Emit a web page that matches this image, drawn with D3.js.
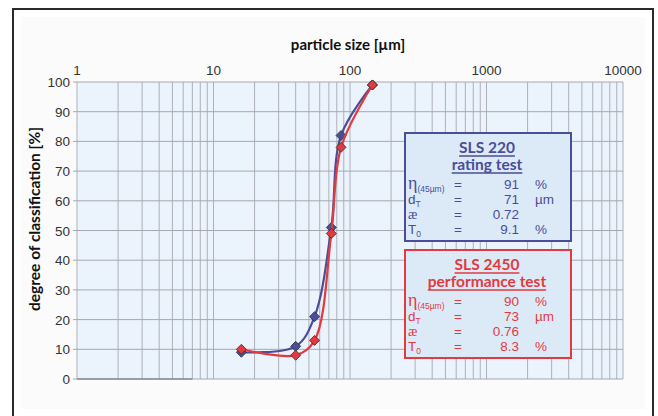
<!DOCTYPE html>
<html>
<head>
<meta charset="utf-8">
<script src="https://cdn.jsdelivr.net/npm/d3@7"></script>
<style>
  html, body { margin: 0; padding: 0; background: #fff; }
  svg { display: block; }
</style>
</head>
<body>
<svg id="chart" width="658" height="416"></svg>
<script>
// particle sizes in µm (log axis) and degree of classification in %
const sizes = [16, 40, 55, 73, 86, 146];
const rating = [9, 11, 21, 51, 82, 99];       // SLS 220
const performance = [10, 8, 13, 49, 78, 99];  // SLS 2450

const xTicks = [1, 10, 100, 1000, 10000];
const yTicks = [0, 10, 20, 30, 40, 50, 60, 70, 80, 90, 100];

// legend box contents
const ratingRows = [
  { sym: "η", sub: "(45µm)", value: "91", unit: "%" },
  { sym: "d", sub: "T", value: "71", unit: "µm" },
  { sym: "æ", sub: "", value: "0.72", unit: "" },
  { sym: "T", sub: "0", value: "9.1", unit: "%" },
];
const performanceRows = [
  { sym: "η", sub: "(45µm)", value: "90", unit: "%" },
  { sym: "d", sub: "T", value: "73", unit: "µm" },
  { sym: "æ", sub: "", value: "0.76", unit: "" },
  { sym: "T", sub: "0", value: "8.3", unit: "%" },
];

const blue = "#4a4d98";
const red = "#e23a3f";

const svg = d3.select("#chart");

// outer frame
svg.append("rect")
  .attr("x", 21).attr("y", 17).attr("width", 624).attr("height", 392)
  .attr("fill", "#fbfbfb");
svg.append("path")
  .attr("d", "M13,420 V9 H653 V420")
  .attr("fill", "none")
  .attr("stroke", "#2a2a2a")
  .attr("stroke-width", 2);

const x = d3.scaleLog().domain([1, 10000]).range([77, 623]);
const y = d3.scaleLinear().domain([0, 100]).range([379, 82]);

// plot background
svg.append("rect")
  .attr("x", x(1)).attr("y", y(100))
  .attr("width", x(10000) - x(1)).attr("height", y(0) - y(100))
  .attr("fill", "#ebf3fc");

// vertical grid, one line per log step
const minor = [];
for (let d = 1; d < 10000; d *= 10) {
  for (let k = 1; k < 10; k++) minor.push(d * k);
}
minor.push(10000);

svg.append("g")
  .selectAll("line")
  .data(minor)
  .join("line")
  .attr("x1", d => x(d)).attr("x2", d => x(d))
  .attr("y1", y(100)).attr("y2", y(0))
  .attr("stroke", "#aeb0b8")
  .attr("stroke-width", 1);

svg.append("g")
  .selectAll("line")
  .data(yTicks)
  .join("line")
  .attr("x1", x(1) - 4).attr("x2", x(10000))
  .attr("y1", d => y(d)).attr("y2", d => y(d))
  .attr("stroke", "#a6a8b0")
  .attr("stroke-width", 1);

// darker piece of the base line on the left
svg.append("line")
  .attr("x1", x(1)).attr("x2", x(7))
  .attr("y1", y(0)).attr("y2", y(0))
  .attr("stroke", "#8a8c92")
  .attr("stroke-width", 1.5);

// tick labels
svg.append("g")
  .selectAll("text")
  .data(yTicks)
  .join("text")
  .attr("x", 70)
  .attr("y", d => y(d) + 5)
  .attr("text-anchor", "end")
  .attr("font-family", "Liberation Sans, Arial, sans-serif")
  .attr("font-size", 13.5)
  .attr("fill", "#333")
  .text(d => d);

svg.append("g")
  .selectAll("text")
  .data(xTicks)
  .join("text")
  .attr("x", d => x(d))
  .attr("y", 75)
  .attr("text-anchor", "middle")
  .attr("font-family", "Liberation Sans, Arial, sans-serif")
  .attr("font-size", 13.5)
  .attr("fill", "#333")
  .text(d => d);

// axis titles
svg.append("text")
  .attr("x", 348).attr("y", 50)
  .attr("text-anchor", "middle")
  .attr("font-family", "Lato, sans-serif")
  .attr("font-weight", "bold")
  .attr("font-size", 15)
  .attr("fill", "#111")
  .text("particle size [µm]");

svg.append("text")
  .attr("transform", "translate(40 219) rotate(-90)")
  .attr("text-anchor", "middle")
  .attr("font-family", "Lato, sans-serif")
  .attr("font-weight", "bold")
  .attr("font-size", 15.5)
  .attr("fill", "#111")
  .text("degree of classification [%]");

// curves
const line = d3.line()
  .x(d => x(d[0]))
  .y(d => y(d[1]))
  .curve(d3.curveCatmullRom.alpha(0.5));

const series = [
  { values: rating, color: blue },
  { values: performance, color: red },
];

const diamond = d3.symbol(d3.symbolSquare, 50);

series.forEach(s => {
  const pts = sizes.map((v, i) => [v, s.values[i]]);
  svg.append("path")
    .attr("d", line(pts))
    .attr("fill", "none")
    .attr("stroke", s.color)
    .attr("stroke-width", 2.2);

  svg.append("g")
    .selectAll("path")
    .data(pts)
    .join("path")
    .attr("d", diamond)
    .attr("transform", d => `translate(${x(d[0])} ${y(d[1])}) rotate(45)`)
    .attr("fill", s.color)
    .attr("stroke", "#333")
    .attr("stroke-width", 0.8);
});

// legend boxes
function drawBox(top, color, title, subtitle, rows) {
  const g = svg.append("g").attr("transform", `translate(405 ${top})`);
  g.append("rect")
    .attr("width", 166).attr("height", 108)
    .attr("fill", "#dceaf8")
    .attr("stroke", color)
    .attr("stroke-width", 2);

  [[title, 20], [subtitle, 37]].forEach(([t, ty]) => {
    const txt = g.append("text")
      .attr("x", 82).attr("y", ty)
      .attr("text-anchor", "middle")
      .attr("font-family", "Lato, sans-serif")
      .attr("font-weight", "bold")
      .attr("font-size", 15.5)
      .attr("fill", color)
      .text(t);
    const w = txt.node().getComputedTextLength();
    g.append("line")
      .attr("x1", 82 - w / 2).attr("x2", 82 + w / 2)
      .attr("y1", ty + 3).attr("y2", ty + 3)
      .attr("stroke", color)
      .attr("stroke-width", 1.3);
  });

  rows.forEach((r, i) => {
    const ry = 56 + i * 15;
    const lab = g.append("text")
      .attr("x", 3).attr("y", ry)
      .attr("fill", color)
      .attr("font-family", "Liberation Sans, Arial, sans-serif")
      .attr("font-size", 13.5);
    lab.append("tspan")
      .attr("font-family", r.sym === "η" || r.sym === "æ" ? "Liberation Serif, serif" : null)
      .attr("font-size", r.sym === "η" ? 18 : r.sym === "æ" ? 14 : 13.5)
      .text(r.sym);
    if (r.sub) {
      lab.append("tspan")
        .attr("dy", 3)
        .attr("font-size", 8.5)
        .text(r.sub);
    }
    g.append("text")
      .attr("x", 53).attr("y", ry)
      .attr("text-anchor", "middle")
      .attr("font-family", "Liberation Sans, Arial, sans-serif")
      .attr("font-size", 13.5)
      .attr("fill", color)
      .text("=");
    g.append("text")
      .attr("x", 114).attr("y", ry)
      .attr("text-anchor", "end")
      .attr("font-family", "Liberation Sans, Arial, sans-serif")
      .attr("font-size", 13.5)
      .attr("fill", color)
      .text(r.value);
    g.append("text")
      .attr("x", 130).attr("y", ry)
      .attr("font-family", "Liberation Sans, Arial, sans-serif")
      .attr("font-size", 13.5)
      .attr("fill", color)
      .text(r.unit);
  });
}

drawBox(133, blue, "SLS 220", "rating test", ratingRows);
drawBox(250, red, "SLS 2450", "performance test", performanceRows);
</script>
</body>
</html>
